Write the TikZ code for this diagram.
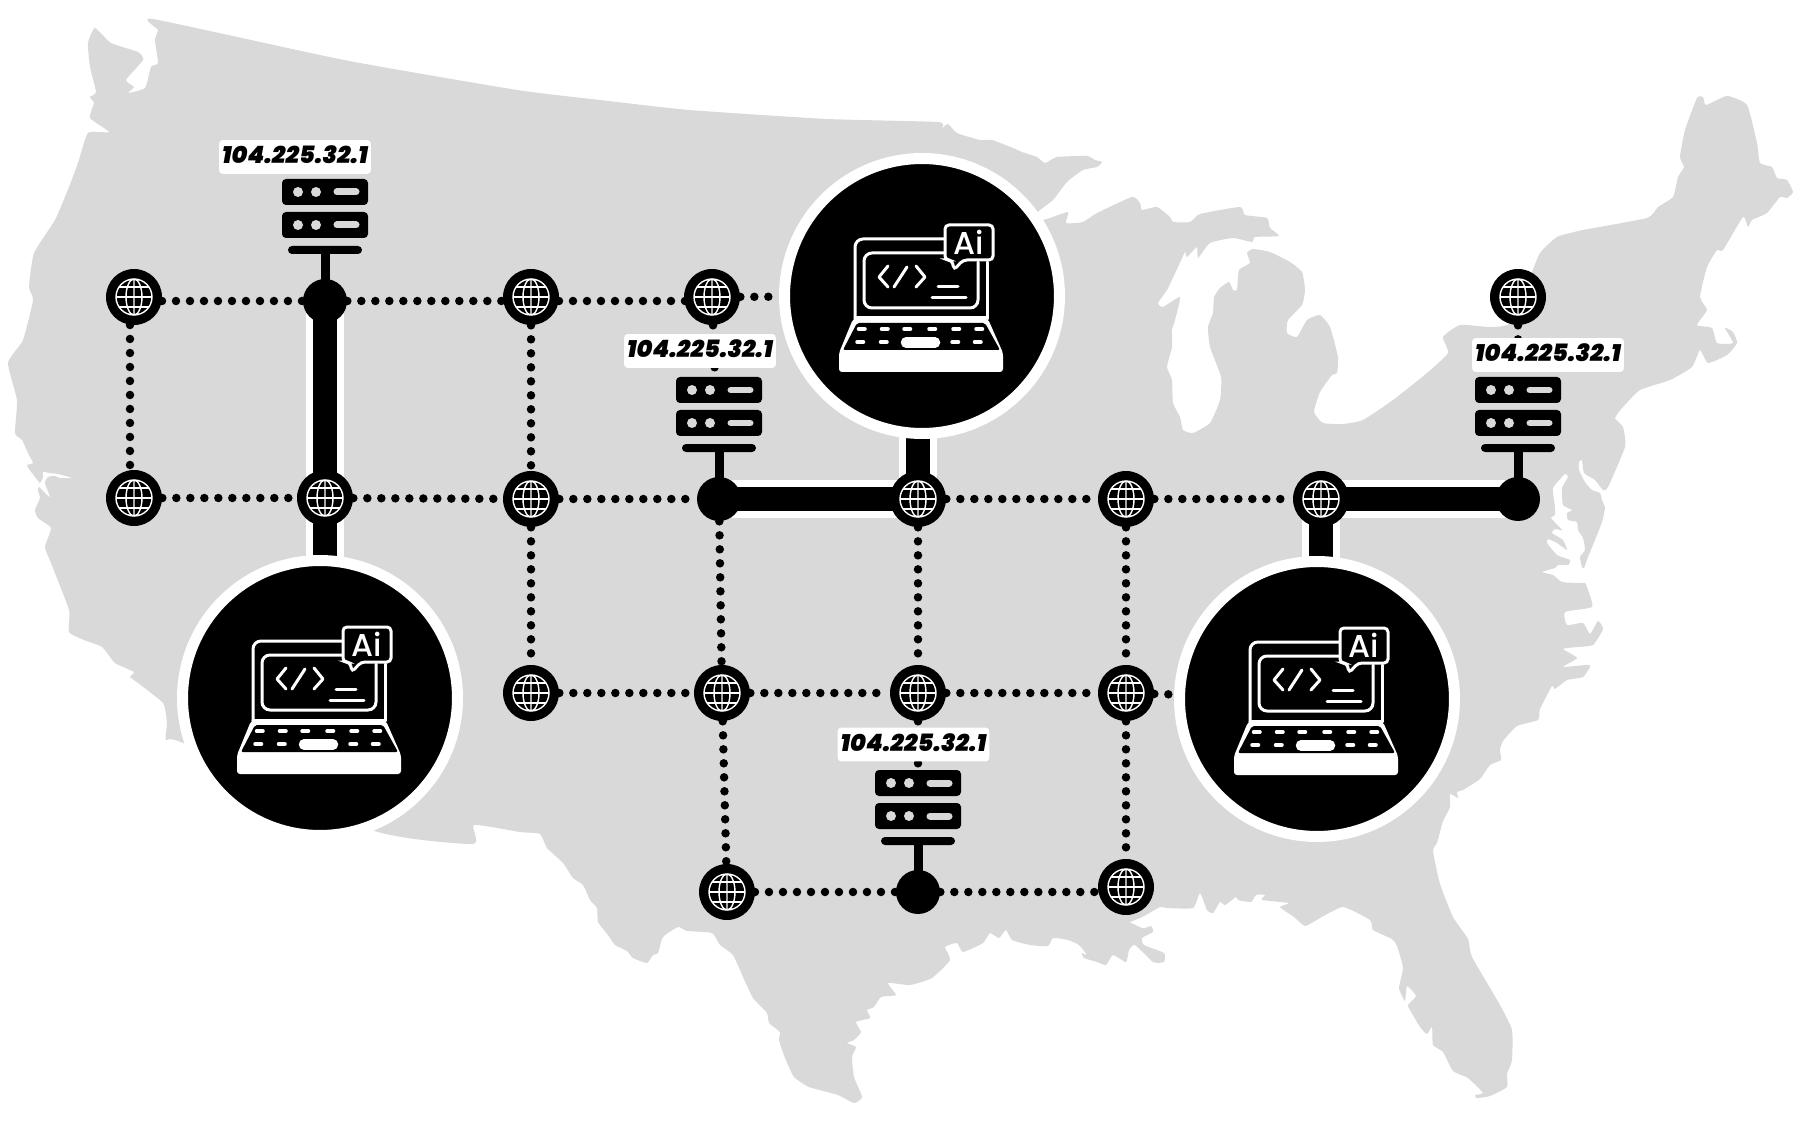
\documentclass[tikz,border=0pt]{standalone}
\usepackage{fontspec}
\usepackage{tikz}
\usetikzlibrary{positioning,calc,backgrounds}
\newfontfamily\ipfont{Poppins Black Italic}
\newfontfamily\aifont{Poppins Medium}
\definecolor{Land}{HTML}{D9D9D9}
\tikzset{
  serverrack/.pic={
    \fill[black,rounded corners=.08cm] (-43,-122) rectangle (43,-96);
    \fill[black,rounded corners=.08cm] (-43,-89) rectangle (43,-63);
    \fill[black,rounded corners=.08cm] (-37,-55) rectangle (37,-47);
    \fill[black] (-4.5,-47) rectangle (4.5,-5);
    \fill[Land] (-27,-109) circle[radius=5] (-9,-109) circle[radius=5]
      (-27,-76) circle[radius=5] (-9,-76) circle[radius=5];
    \draw[Land,line width=.14cm,line cap=round] (12,-109)--(31,-109) (12,-76)--(31,-76);
  },
  laptop/.pic={
    \fill[white,rounded corners=.06cm] (-69,23)--(66,23)--(81,57)--(81,76)--(-83,76)--(-83,57)--cycle;
    \fill[black,rounded corners=.04cm] (-65,27)--(63,27)--(78,54)--(-79,54)--cycle;
    \begin{scope}[white,line width=.06cm,line cap=round]
    \draw[rounded corners=.16cm] (-67,24)--(-67,-57)--(23,-57);
    \draw (65,-34)--(65,23) (-67,22)--(65,22);
    \draw[rounded corners=.16cm] (23,-43)--(-58,-43)--(-58,12)--(56,12)--(56,-34);
    \draw[line join=round] (-34,-30)--(-43,-19)--(-34,-9) (-15,-29)--(-28,-9)
      (-6,-30)--(3,-19)--(-6,-9);
    \draw (16,-9)--(36,-9) (10,2)--(44,2);
    \draw[fill=black,rounded corners=.08cm] (23,-71)--(71,-71)--(71,-36)--(41,-36)--(32,-26)--(30,-36)--(23,-36)--cycle;
    \end{scope}
    \node[text=white,font=\aifont\fontsize{18}{18}\selectfont,inner sep=0pt] (ai) at (46.5,-53.5) {Ai};
    \draw[white,line width=.07cm,line cap=round]
      (-63.5,33)--(-57,33) (-40.5,33)--(-34,33) (-18,33)--(-11.5,33) (7,33)--(13.5,33) (31,33)--(37.5,33) (54,33)--(60.5,33)
      (-65,46)--(-58.5,46) (-41.5,46)--(-35,46) (30,46)--(36.5,46) (52.5,46)--(59,46);
    \draw[white,line width=.21cm,line cap=round] (-16,46.5)--(13,46.5);
  },
  globe/.style={circle,fill=black,minimum size=1.12cm,inner sep=0pt,path picture={
    \begin{scope}[shift={(path picture bounding box.center)},white,line width=.028cm]
    \draw (0,0) circle[radius=18] (0,0) ellipse[x radius=8,y radius=18] (0,-18)--(0,18);
    \draw (-18,0)--(18,0) (-15,-10)--(15,-10) (-15,10)--(15,10);
    \end{scope}}},
  hub/.style={circle,fill=black,minimum size=.88cm,inner sep=0pt},
  bigdisc/.style={circle,fill=black,draw=white,line width=.22cm,minimum size=5.5cm,inner sep=0pt},
  iptag/.style={fill=white,rounded corners=.08cm,minimum width=3.04cm,minimum height=.68cm,
    inner sep=0pt,text depth=.08cm,font=\ipfont\fontsize{13.6}{14}\selectfont},
  dots/.style={line width=.17cm,line cap=round,dash pattern=on 0pt off .28cm},
  halo/.style={white,line width=.76cm},
  trunk/.style={black,line width=.48cm}
}
\begin{document}
\begin{tikzpicture}[x=.02cm,y=-.02cm]
\useasboundingbox (0,0) rectangle (1800,1125);
% routers and hubs
\node[globe] (g11) at (134,297) {};
\node[hub] (s1) at (325,301) {};
\node[globe] (g13) at (531,297) {};
\node[globe] (g14) at (712,297) {};
\node[globe] (g17) at (1518,297) {};
\node[globe] (g21) at (134,498) {};
\node[globe] (g22) at (325,498) {};
\node[globe] (g23) at (531,499) {};
\node[hub] (s2) at (719,499) {};
\node[globe] (g25) at (918,499) {};
\node[globe] (g26) at (1126,499) {};
\node[globe] (g27) at (1321,499) {};
\node[hub] (s5) at (1518,499) {};
\node[globe] (g33) at (531,693) {};
\node[globe] (g34) at (722,693) {};
\node[globe] (g35) at (918,693) {};
\node[globe] (g36) at (1126,693) {};
\node[globe] (g44) at (727,892) {};
\node[hub] (s4) at (918,892) {};
\node[globe] (g46) at (1126,887) {};
\node[bigdisc] (west) at (320,698) {};
\node[bigdisc] (mid) at (922,296) {};
\node[bigdisc] (east) at (1317,699) {};
% tops of the server stacks
\coordinate (top2) at (715,378);
\coordinate (top4) at (918,772);
\coordinate (top5) at (1518,378);
% servers and laptops
\pic at (s1) {serverrack};
\pic at (s2) {serverrack};
\pic at (s4) {serverrack};
\pic at (s5) {serverrack};
\pic (lapw) at (west) {laptop};
\pic (lapm) at (mid) {laptop};
\pic (lape) at (east) {laptop};
\node[iptag] (ip1) at (295,157) {104.225.32.1};
\node[iptag] (ip2) at (700,351) {104.225.32.1};
\node[iptag] (ip4) at (913.5,744.5) {104.225.32.1};
\node[iptag] (ip5) at (1548,355) {104.225.32.1};
\begin{scope}[on background layer]
% land
\fill[Land] plot[smooth cycle,tension=.3] coordinates {
 (153,19) (344,60) (517,90) (600,100) (689,110) (827,119) (938,122) (942,128) (948,124) (957,133)
 (980,140) (992,140) (1013,148) (1022,152) (1037,157) (1045,163) (1057,157) (1087,156) (1095,160) (1102,162)
 (1097,167) (1083,170) (1067,182) (1053,200) (1038,212) (1043,220) (1068,212) (1066,223) (1083,222) (1097,213)
 (1132,197) (1140,203) (1142,210) (1157,207) (1170,217) (1173,222) (1190,222) (1200,214) (1240,207) (1245,215)
 (1267,218) (1270,228) (1279,236) (1255,237) (1252,242) (1233,238) (1210,243) (1198,258) (1197,247) (1187,257)
 (1185,252) (1178,267) (1167,290) (1158,303) (1163,307) (1180,297) (1175,320) (1172,330) (1172,347) (1167,367)
 (1172,380) (1173,403) (1180,417) (1183,430) (1193,433) (1210,423) (1220,400) (1221,377) (1210,347) (1208,327)
 (1213,313) (1214,297) (1220,288) (1229,282) (1233,290) (1237,290) (1239,270) (1250,263) (1247,253) (1253,249)
 (1270,252) (1290,262) (1302,272) (1305,290) (1302,305) (1288,320) (1287,333) (1297,337) (1307,320) (1320,315)
 (1330,327) (1338,357) (1337,373) (1332,375) (1320,392) (1314,412) (1323,423) (1343,424) (1363,420) (1393,400)
 (1427,373) (1448,353) (1443,337) (1460,325) (1490,327) (1510,323) (1530,277) (1540,253) (1557,237) (1583,230)
 (1647,218) (1658,207) (1673,197) (1678,177) (1684,167) (1680,157) (1685,130) (1697,98) (1703,97) (1706,105)
 (1727,96) (1747,105) (1757,143) (1760,163) (1772,167) (1777,178) (1787,180) (1793,192) (1787,198) (1780,197)
 (1767,213) (1752,220) (1748,227) (1743,217) (1723,250) (1717,250) (1707,267) (1700,297) (1707,310) (1697,325)
 (1712,328) (1717,343) (1733,343) (1725,328) (1733,332) (1737,343) (1727,355) (1708,363) (1700,350) (1692,367)
 (1670,380) (1640,390) (1623,407) (1615,418) (1623,427) (1625,447) (1608,487) (1603,490) (1595,480) (1584,473)
 (1582,460) (1579,462) (1579,470) (1585,482) (1592,490) (1600,493) (1602,500) (1605,508) (1602,522) (1595,540)
 (1588,557) (1584,568) (1582,567) (1580,557) (1585,550) (1583,538) (1578,530) (1577,522) (1568,520) (1567,513)
 (1572,510) (1563,505) (1562,488) (1568,477) (1565,474) (1553,488) (1555,507) (1555,515) (1551,518) (1562,530)
 (1555,529) (1552,533) (1563,540) (1567,550) (1557,543) (1548,539) (1547,543) (1557,555) (1570,560) (1568,565)
 (1558,565) (1555,568) (1542,572) (1553,575) (1562,582) (1577,583) (1585,583) (1588,590) (1592,607) (1565,612) (1567,625)
 (1583,623) (1590,634) (1598,621) (1603,629) (1593,645) (1577,647) (1563,649) (1577,658) (1563,667) (1590,665)
 (1583,677) (1567,680) (1555,689) (1552,686) (1540,709) (1538,720) (1517,726) (1503,741) (1500,750) (1501,760)
 (1490,765) (1480,779) (1463,790) (1457,792) (1458,798) (1450,794) (1450,807) (1443,821) (1440,832) (1437,843)
 (1433,851) (1440,884) (1453,917) (1468,939) (1472,957) (1500,1005) (1512,1030) (1512,1060) (1507,1074) (1507,1087)
 (1490,1096) (1477,1098) (1475,1095) (1483,1093) (1468,1078) (1453,1071) (1443,1052) (1433,1045) (1432,1027) (1427,1034)
 (1420,1027) (1410,1010) (1408,1005) (1416,996) (1407,986) (1405,1001) (1399,988) (1403,968) (1397,946) (1392,939)
 (1373,930) (1370,920) (1343,907) (1320,918) (1305,926) (1294,917) (1280,907) (1289,903) (1262,900) (1265,895)
 (1256,895) (1251,902) (1238,900) (1236,897) (1225,905) (1220,902) (1213,913) (1207,910) (1200,893) (1193,908)
 (1167,908) (1160,907) (1146,915) (1129,922) (1106,918) (1108,912) (1142,928) (1151,926) (1153,932) (1142,938)
 (1144,945) (1164,953) (1164,962) (1153,962) (1135,945) (1129,950) (1126,962) (1113,955) (1106,965) (1097,962)
 (1084,958) (1082,953) (1087,955) (1079,945) (1068,940) (1053,938) (1048,946) (1030,945) (1012,940) (1006,930)
 (999,938) (990,933) (983,943) (963,952) (957,943) (945,947) (950,960) (932,978) (910,985) (888,983)
 (896,995) (881,997) (874,1007) (867,1010) (870,1018) (856,1022) (861,1032) (854,1040) (847,1043) (856,1047)
 (852,1057) (854,1077) (862,1097) (854,1103) (838,1095) (809,1087) (794,1077) (785,1058) (779,1040) (780,1032)
 (769,1023) (767,1013) (753,998) (743,977) (733,955) (720,945) (712,933) (687,931) (678,927) (663,937)
 (658,953) (653,955) (647,963) (633,958) (627,951) (615,945) (608,935) (598,922) (597,908) (590,900)
 (583,885) (573,878) (563,863) (547,848) (540,834) (520,832) (474,825) (473,844) (375,831) (183,743)
 (166,740) (167,723) (163,703) (138,683) (130,677) (134,672) (115,663) (102,647) (84,640) (69,632)
 (69,610) (51,563) (45,547) (51,528) (38,518) (35,510) (40,498) (38,490) (39,487) (45,493)
 (50,497) (45,483) (48,477) (55,476) (60,478) (72,478) (58,474) (50,473) (43,472) (43,477)
 (40,483) (35,477) (29,469) (27,465) (33,463) (28,453) (22,440) (15,433) (17,400) (8,363)
 (23,340) (33,300) (29,287) (34,253) (55,220) (69,187)
 (78,163) (88,133) (109,132) (90,118) (94,103) (90,97) (96,92) (90,67) (88,43) (95,28)
 (111,43) (138,52) (143,60) (126,80) (134,87) (128,93) (145,88) (151,67) (158,63) (155,40)
 (158,30)};
% links
\draw[halo] (s1.center)--(s1 |- west) (s2.center)--(g25.center)--(g25 |- mid) (g27 |- east)--(g27.center)--(s5.center);
\draw[dots] (g11 |- s1)--(s1);
\draw[dots] (s1)--(g13 |- s1);
\draw[dots] (g13 |- s1)--(g14 |- s1);
\draw[dots] (g14)--(mid);
\draw[dots] ([xshift=-.08cm]g11.center)--([xshift=-.08cm]g21.center);
\draw[dots] (g21)--(g22);
\draw[dots] (g22)--(g23);
\draw[dots] (g23)--(s2);
\draw[dots] (g25)--(g26);
\draw[dots] (g26)--(g27);
\draw[dots] (g13)--(g23);
\draw[dots] (g23)--(g33);
\draw[dots] (g14)--(top2);
\draw[dots] (s2)--(g34);
\draw[dots] (g34)--(g44);
\draw[dots] (g25)--(g35);
\draw[dots] (g35)--(top4);
\draw[dots] (g26)--(g36);
\draw[dots] (g36)--(g46);
\draw[dots] (g17)--(top5);
\draw[dots] (g33)--(g34);
\draw[dots] (g34)--(g35);
\draw[dots] (g35)--(g36);
\draw[dots] (g36)--(east);
\draw[dots] (g44 |- s4)--(s4);
\draw[dots] (s4)--(g46 |- s4);
\draw[trunk] (s1.center)--(s1 |- west) (s2.center)--(g25.center)--(g25 |- mid) (g27 |- east)--(g27.center)--(s5.center);
\end{scope}
\end{tikzpicture}
\end{document}
